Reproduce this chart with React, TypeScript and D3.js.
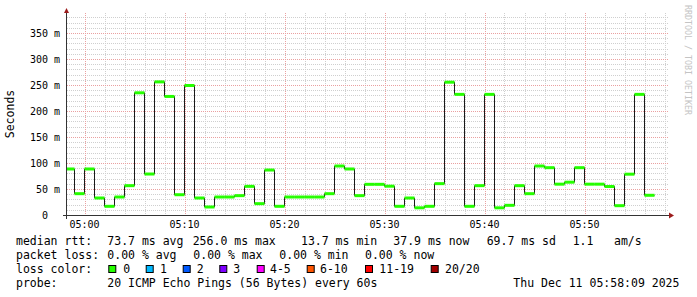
import React from "react";
import * as d3 from "d3";

// median rtt per minute (ms), buckets starting 04:58 UTC
const medianValues: number[] = [
  88.5, 41, 88.5, 32.7, 16.7, 34.6, 56.4, 235, 78.8, 256, 228, 39, 249, 32.7, 15.4,
  34.6, 34.6, 37.2, 55.1, 21.8, 86.5, 16.7, 34.6, 34.6, 34.6, 34.6, 41, 94.2, 88.5, 37.2,
  59, 59, 55.4, 16.7, 32.7, 13.8, 16.7, 60.3, 255.4, 232, 16.7, 56.4, 232, 13.8, 18.6,
  56.4, 41, 94.2, 91, 59.3, 63.1, 91, 59.3, 59.3, 54.8, 17.9, 78.5, 232, 37.9,
];
const firstBucket = Date.UTC(2025, 11, 11, 4, 58, 0);
const stepMs = 60 * 1000;
const viewStart = Date.UTC(2025, 11, 11, 4, 58, 15);
const viewEnd = Date.UTC(2025, 11, 11, 5, 58, 15);

const yTicks = [0, 50, 100, 150, 200, 250, 300, 350];
const yTickLabels = ["0  ", "50 m", "100 m", "150 m", "200 m", "250 m", "300 m", "350 m"];
const xTickLabels = ["05:00", "05:10", "05:20", "05:30", "05:40", "05:50"];

const lossLabels = ["0", "1", "2", "3", "4-5", "6-10", "11-19", "20/20"];
const lossColors = ["#26ff00", "#00b8ff", "#0059ff", "#7e00ff", "#ff00ff", "#ff5500", "#ff0000", "#a10000"];

const statsLine1 = [
  "median rtt:", "73.7 ms avg", "256.0 ms max", "13.7 ms min", "37.9 ms now", "69.7 ms sd", "1.1", "am/s",
];
const statsLine2 = ["packet loss:", "0.00 % avg", "0.00 % max", "0.00 % min", "0.00 % now"];
const probeText = ["probe:", "20 ICMP Echo Pings (56 Bytes) every 60s", "Thu Dec 11 05:58:09 2025"];

const FONT = "'DejaVu Sans Mono', monospace";

export default function App() {
  const W = 697, H = 297;
  const left = 67, right = 667, top = 13, bottom = 215;
  const x = d3.scaleUtc().domain([viewStart, viewEnd]).range([left, right]);
  const y = d3.scaleLinear().domain([0, (bottom - top) / 0.52]).range([bottom, top]);

  const pts: [number, number][] = medianValues.map((v, i) => [firstBucket + i * stepMs, v]);
  pts.push([firstBucket + medianValues.length * stepMs, medianValues[medianValues.length - 1]]);
  const stepLine = d3
    .line<[number, number]>()
    .x((d) => x(d[0]))
    .y((d) => y(d[1]))
    .curve(d3.curveStepAfter);

  // grid
  const minorH: number[] = d3.range(10, 390, 10).filter((v) => v % 50 !== 0 && y(v) >= top);
  const majorH: number[] = d3.range(50, 390, 50).filter((v) => y(v) >= top);
  const minorV: number[] = [];
  const majorV: number[] = [];
  for (let t = Date.UTC(2025, 11, 11, 4, 58); t <= viewEnd; t += 2 * stepMs) {
    const m = new Date(t).getUTCMinutes();
    if (x(t) < left || x(t) > right) continue;
    if (m % 10 === 0) majorV.push(t);
    else minorV.push(t);
  }
  const xTickTimes = xTickLabels.map((_, i) => Date.UTC(2025, 11, 11, 5, i * 10));

  const crisp = (v: number) => Math.round(v) + 0.5;

  const line1X = [16, 107.3, 192.7, 301, 393.3, 486.7, 572.7, 614];
  const line2X = [16, 107.3, 193.3, 279.3, 365];
  const boxX = [108.3, 145.7, 182.7, 219.3, 256.7, 306.7, 365, 430.7];
  const boxLabelX = [123.3, 160, 196.7, 233.3, 270, 320, 379.3, 445];

  return (
    <svg width={W} height={H} style={{ display: "block", position: "absolute", left: 0, top: 0 }}>
      <rect x={0} y={0} width={W} height={H} fill="#ffffff" />
      <defs>
        <clipPath id="plotclip">
          <rect x={left} y={top - 5} width={right - left} height={bottom - top + 10} />
        </clipPath>
      </defs>
      {/* grid */}
      <g strokeWidth={1} strokeDasharray="1,1">
        {minorH.map((v) => (
          <line key={"mh" + v} x1={left} x2={right + 1} y1={crisp(y(v))} y2={crisp(y(v))} stroke="#cfcfcf" />
        ))}
        {minorV.map((t) => (
          <line key={"mv" + t} x1={crisp(x(t))} x2={crisp(x(t))} y1={top} y2={bottom} stroke="#cfcfcf" />
        ))}
        {majorH.map((v) => (
          <line key={"Mh" + v} x1={left} x2={right + 1} y1={crisp(y(v))} y2={crisp(y(v))} stroke="#eaa0a0" />
        ))}
        {majorV.map((t) => (
          <line key={"Mv" + t} x1={crisp(x(t))} x2={crisp(x(t))} y1={top} y2={bottom} stroke="#eaa0a0" />
        ))}
      </g>
      {/* data */}
      <g clipPath="url(#plotclip)">
        <path d={stepLine(pts) || ""} fill="none" stroke="#1a1a1a" strokeWidth={1} />
        {medianValues.map((v, i) => {
          const t0 = firstBucket + i * stepMs;
          return (
            <line
              key={"g" + i}
              x1={Math.max(left, x(t0))}
              x2={x(t0 + stepMs)}
              y1={y(v)}
              y2={y(v)}
              stroke={lossColors[0]}
              strokeWidth={3}
            />
          );
        })}
      </g>
      {/* axes */}
      <line x1={63} x2={669} y1={bottom + 0.5} y2={bottom + 0.5} stroke="#333" strokeWidth={1} />
      <line x1={left - 0.5} x2={left - 0.5} y1={219} y2={top} stroke="#333" strokeWidth={1} />
      <path d={`M${left - 3},${top} L${left + 2},${top} L${left - 0.5},${top - 5} Z`} fill="#9c1c1c" />
      <path d={`M669,${bottom - 2.5} L669,${bottom + 3.5} L674,${bottom + 0.5} Z`} fill="#9c1c1c" />
      {/* y ticks */}
      <g fontFamily={FONT} fontSize={10} fill="#000">
        {yTicks.map((v, i) => (
          <text key={"yt" + v} x={60} y={y(v) + 3.6} textAnchor="end" style={{ whiteSpace: "pre" }}>
            {yTickLabels[i]}
          </text>
        ))}
        {xTickTimes.map((t, i) => (
          <text key={"xt" + i} x={x(t)} y={228} textAnchor="middle">
            {xTickLabels[i]}
          </text>
        ))}
      </g>
      <text
        transform="translate(14,114) rotate(-90)"
        textAnchor="middle"
        fontFamily={FONT}
        fontSize={11.5}
        fill="#000"
      >
        Seconds
      </text>
      <text
        transform="translate(685,5) rotate(90)"
        fontFamily={FONT}
        fontSize={8.3}
        fill="#c4c4c4"
      >
        RRDTOOL / TOBI OETIKER
      </text>
      {/* legend */}
      <g fontFamily={FONT} fontSize={11.5} fill="#000">
        {statsLine1.map((s, i) => (
          <text key={"l1" + i} x={line1X[i]} y={245}>{s}</text>
        ))}
        {statsLine2.map((s, i) => (
          <text key={"l2" + i} x={line2X[i]} y={259}>{s}</text>
        ))}
        <text x={16} y={273}>loss color:</text>
        {lossLabels.map((s, i) => (
          <g key={"lc" + i}>
            <rect x={boxX[i] + 0.5} y={265.5} width={7} height={7} fill={lossColors[i]} stroke="#000" strokeWidth={1} />
            <text x={boxLabelX[i]} y={273}>{s}</text>
          </g>
        ))}
        <text x={probeText.length ? 16 : 0} y={287}>{probeText[0]}</text>
        <text x={107.3} y={287}>{probeText[1]}</text>
        <text x={513.3} y={287}>{probeText[2]}</text>
      </g>
    </svg>
  );
}
